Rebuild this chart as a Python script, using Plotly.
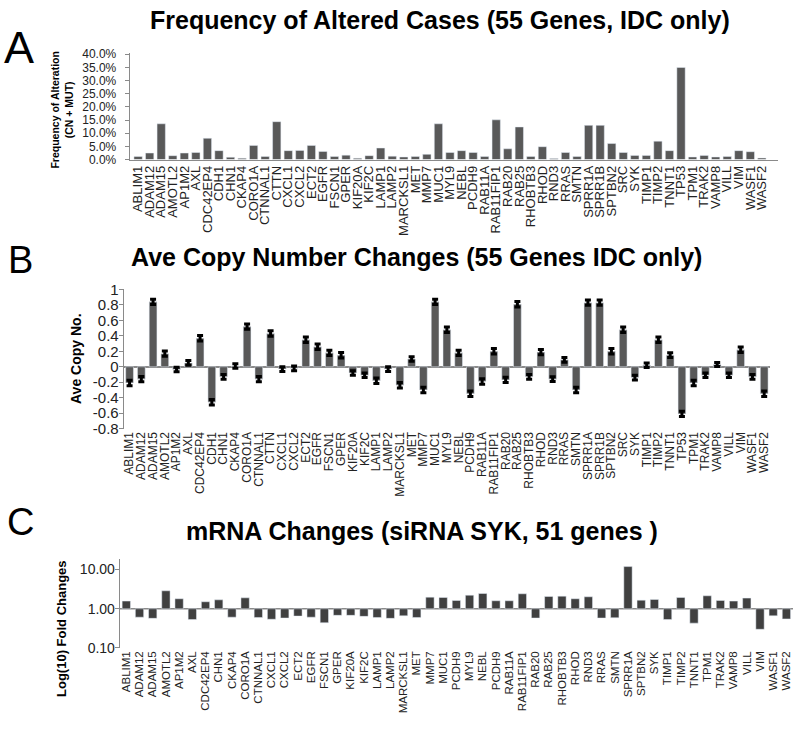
import plotly.graph_objects as go

# ---------------- data ----------------
GENES_AB = ["ABLIM1", "ADAM12", "ADAM15", "AMOTL2", "AP1M2", "AXL", "CDC42EP4", "CDH1", "CHN1", "CKAP4",
            "CORO1A", "CTNNAL1", "CTTN", "CXCL1", "CXCL2", "ECT2", "EGFR", "FSCN1", "GPER", "KIF20A",
            "KIF2C", "LAMP1", "LAMP2", "MARCKSL1", "MET", "MMP7", "MUC1", "MYL9", "NEBL", "PCDH9",
            "RAB11A", "RAB11FIP1", "RAB20", "RAB25", "RHOBTB3", "RHOD", "RND3", "RRAS", "SMTN", "SPRR1A",
            "SPRR1B", "SPTBN2", "SRC", "SYK", "TIMP1", "TIMP2", "TNNT1", "TP53", "TPM1", "TRAK2",
            "VAMP8", "VILL", "VIM", "WASF1", "WASF2"]

# Panel A: frequency of alteration (%)
FREQ_ALT = [1.2, 2.5, 13.6, 1.5, 2.5, 2.7, 8.1, 3.4, 0.9, 0.5,
            5.4, 1.2, 14.4, 3.4, 3.5, 5.4, 3.1, 1.2, 1.7, 0.5,
            1.5, 4.4, 1.3, 1.0, 1.2, 2.0, 13.6, 2.7, 3.4, 2.7,
            1.2, 15.1, 4.1, 12.4, 1.2, 4.9, 0.4, 2.7, 1.2, 13.0,
            13.0, 6.1, 2.7, 1.6, 1.6, 7.0, 3.4, 35.0, 1.0, 1.6,
            1.0, 1.2, 3.4, 3.0, 0.6]

# Panel B: average copy number change and its error
AVE_CN = [-0.21, -0.16, 0.84, 0.17, -0.035, 0.05, 0.37, -0.46, -0.13, 0.01,
          0.52, -0.16, 0.43, -0.03, -0.02, 0.35, 0.26, 0.18, 0.15, -0.08,
          -0.11, -0.18, -0.03, -0.24, 0.10, -0.30, 0.84, 0.48, 0.18, -0.35,
          -0.19, 0.20, -0.17, 0.81, -0.13, 0.19, -0.16, 0.09, -0.30, 0.83,
          0.83, 0.20, 0.48, -0.14, 0.02, 0.35, 0.15, -0.61, -0.21, -0.11,
          0.03, -0.11, 0.22, -0.13, -0.35]
AVE_CN_ERR = [0.035, 0.035, 0.035, 0.035, 0.03, 0.03, 0.035, 0.035, 0.03, 0.03,
              0.035, 0.035, 0.035, 0.03, 0.03, 0.035, 0.035, 0.035, 0.035, 0.03,
              0.03, 0.035, 0.03, 0.035, 0.03, 0.035, 0.035, 0.035, 0.035, 0.035,
              0.035, 0.035, 0.035, 0.035, 0.03, 0.035, 0.03, 0.03, 0.035, 0.035,
              0.035, 0.035, 0.035, 0.03, 0.03, 0.035, 0.03, 0.035, 0.035, 0.03,
              0.025, 0.03, 0.035, 0.03, 0.035]

# Panel C: mRNA fold change after siRNA SYK
GENES_C = ["ABLIM1", "ADAM12", "ADAM15", "AMOTL2", "AP1M2", "AXL", "CDC42EP4", "CHN1", "CKAP4", "CORO1A",
           "CTNNAL1", "CXCL1", "CXCL2", "ECT2", "EGFR", "FSCN1", "GPER", "KIF20A", "KIF2C", "LAMP1",
           "LAMP2", "MARCKSL1", "MET", "MMP7", "MUC1", "PCDH9", "MYL9", "NEBL", "PCDH9", "RAB11A",
           "RAB11FIP1", "RAB20", "RAB25", "RHOBTB3", "RHOD", "RND3", "RRAS", "SMTN", "SPRR1A", "SPTBN2",
           "SYK", "TIMP1", "TIMP2", "TNNT1", "TPM1", "TRAK2", "VAMP8", "VILL", "VIM", "WASF1", "WASF2"]
FOLD_CHANGE = [1.57, 0.61, 0.57, 2.87, 1.80, 0.53, 1.51, 1.69, 0.61, 1.90,
               0.60, 0.54, 0.58, 0.65, 0.61, 0.44, 0.68, 0.68, 0.64, 0.60,
               0.57, 0.66, 0.60, 1.98, 1.94, 1.63, 2.22, 2.45, 1.60, 1.60,
               2.41, 0.58, 2.06, 2.10, 1.80, 2.02, 0.58, 0.59, 11.9, 1.66,
               1.73, 0.53, 1.94, 0.43, 2.14, 1.63, 1.57, 1.87, 0.30, 0.66, 0.55]
FOLD_BASE = 1.0

A_TICKVALS = [0, 5, 10, 15, 20, 25, 30, 35, 40]
A_TICKTEXT = ["0.0%", "5.0%", "10.0%", "15.0%", "20.0%", "25.0%", "30.0%", "35.0%", "40.0%"]
B_TICKVALS = [-0.8, -0.6, -0.4, -0.2, 0, 0.2, 0.4, 0.6, 0.8, 1]
B_TICKTEXT = ["-0.8", "-0.6", "-0.4", "-0.2", "0", "0.2", "0.4", "0.6", "0.8", "1"]
C_TICKVALS = [0.1, 1, 10]
C_TICKTEXT = ["0.10", "1.00", "10.00"]

# ---------------- figure ----------------
W, H = 798, 731
FONT = "Liberation Sans, Arial, sans-serif"
AXCOL = "#8a8a8a"
TXT = "#222222"

def px(x):
    return x / W

def py(y):
    return 1 - y / H

xa = list(range(len(GENES_AB)))
xc = list(range(len(GENES_C)))

fig = go.Figure()
fig.add_trace(go.Bar(x=xa, y=FREQ_ALT, marker_color="#595959", width=0.72,
                     xaxis="x", yaxis="y", showlegend=False))
fig.add_trace(go.Bar(x=xa, y=AVE_CN, marker_color="#595959", width=0.66,
                     xaxis="x2", yaxis="y2",
                     error_y=dict(type="data", array=AVE_CN_ERR, color="black", thickness=3, width=3),
                     showlegend=False))
fig.add_trace(go.Bar(x=xc, y=[v - FOLD_BASE for v in FOLD_CHANGE], base=FOLD_BASE, width=0.63,
                     marker_color="#404040", xaxis="x3", yaxis="y3", showlegend=False))

def xax(size, **kw):
    d = dict(tickmode="array", tickangle=-90, showgrid=False, zeroline=False,
             ticks="", tickfont=dict(family=FONT, size=size, color=TXT), fixedrange=True)
    d.update(kw)
    return d

def yax(size, standoff, **kw):
    d = dict(showgrid=False, showline=True, linecolor=AXCOL, linewidth=1,
             ticks="outside", ticklen=4, tickcolor=AXCOL, tickmode="array",
             ticklabelstandoff=standoff, fixedrange=True,
             tickfont=dict(family=FONT, size=size, color=TXT))
    d.update(kw)
    return d

fig.update_layout(
    width=W, height=H, margin=dict(l=0, r=0, t=0, b=0),
    paper_bgcolor="white", plot_bgcolor="white",
    xaxis=xax(13, domain=[px(129), px(779)], range=[-0.73, 55.4],
              tickvals=xa, ticktext=GENES_AB, showline=True, linecolor=AXCOL, anchor="y"),
    yaxis=yax(12, 6, domain=[py(155), py(46.5)], range=[0, 40.3],
              tickvals=A_TICKVALS, ticktext=A_TICKTEXT, anchor="x"),
    xaxis2=xax(12, domain=[px(123), px(771)], range=[-0.5, 54.5],
               tickvals=xa, ticktext=GENES_AB, showline=False, anchor="y2"),
    yaxis2=yax(15, -3, domain=[py(430), py(287)], range=[-0.8, 1.01],
               tickvals=B_TICKVALS, ticktext=B_TICKTEXT, anchor="x2",
               zeroline=True, zerolinecolor=AXCOL, zerolinewidth=1.5),
    xaxis3=xax(11.5, domain=[px(119), px(794)], range=[-0.5, 50.5],
               tickvals=xc, ticktext=GENES_C, showline=False, anchor="y3"),
    yaxis3=yax(14, -3, domain=[py(654.3), py(563.3)], type="log", range=[-1, 1.27],
               tickvals=C_TICKVALS, ticktext=C_TICKTEXT, anchor="x3"),
)

fig.add_shape(type="line", xref="x3 domain", yref="y3", x0=0, x1=1, y0=FOLD_BASE, y1=FOLD_BASE,
              line=dict(color=AXCOL, width=1.5), layer="below")

ann = []
def A(text, x, y, size, bold=False, angle=0, color="black"):
    ann.append(dict(text=f"<b>{text}</b>" if bold else text, x=px(x), y=py(y),
                    xref="paper", yref="paper", xanchor="center", yanchor="middle",
                    showarrow=False, textangle=angle,
                    font=dict(family=FONT, size=size, color=color)))

A("Frequency of Altered Cases (55 Genes, IDC only)", 440, 12, 25, bold=True)
A("Ave Copy Number Changes (55 Genes IDC only)", 417, 255, 25, bold=True)
A("mRNA Changes (siRNA SYK, 51 genes )", 422, 535, 25, bold=True)
A("A", 18, 40, 45)
A("B", 20, 258, 38)
A("C", 20, 526, 38)
A("Frequency of Alteration<br>(CN + MUT)", 61, 104, 10.5, bold=True, angle=-90)
A("Ave Copy No.", 75, 358, 14, bold=True, angle=-90)
A("Log(10) Fold Changes", 60, 634, 13, bold=True, angle=-90)
fig.update_layout(annotations=ann)

fig.write_html("out.html",
               config={"displayModeBar": False, "staticPlot": True},
               post_script="document.body.style.margin='0';document.body.style.padding='0';"
                           "document.body.style.overflow='hidden';")
